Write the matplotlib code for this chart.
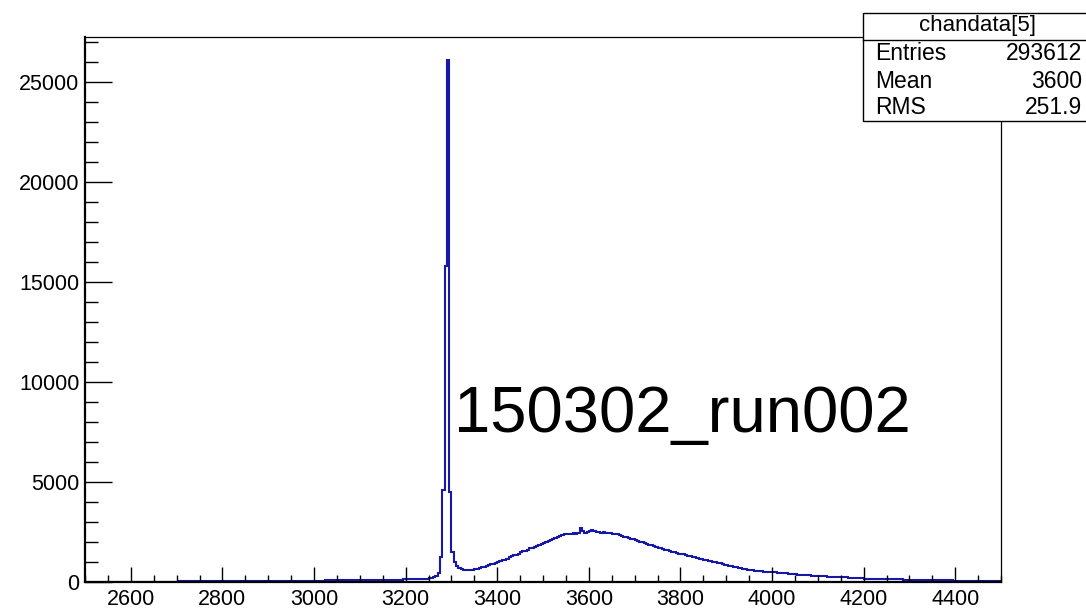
import matplotlib
matplotlib.use("Agg")
import matplotlib.pyplot as plt
import matplotlib.patches as patches
from matplotlib.ticker import MultipleLocator
import numpy as np

plt.rcParams['font.family'] = ['Liberation Sans', 'DejaVu Sans']

# histogram chandata[5], 5-unit bins from 2500 to 4500
bin_lo = 2500
bin_width = 5
counts = [
    4, 6, 5, 7, 6, 8, 7, 9, 8, 10,
    9, 11, 10, 12, 11, 13, 12, 14, 13, 15,
    14, 16, 15, 17, 16, 18, 17, 19, 18, 20,
    19, 21, 20, 22, 21, 23, 22, 24, 23, 25,
    24, 26, 25, 27, 26, 28, 27, 29, 28, 30,
    29, 31, 30, 32, 31, 33, 33, 35, 34, 36,
    35, 37, 36, 38, 38, 40, 39, 41, 41, 43,
    42, 44, 44, 46, 45, 47, 47, 49, 49, 51,
    50, 52, 52, 54, 54, 56, 56, 58, 58, 60,
    60, 62, 62, 64, 64, 66, 66, 68, 68, 70,
    70, 72, 73, 75, 75, 77, 78, 80, 80, 82,
    83, 85, 85, 87, 88, 90, 91, 93, 93, 95,
    96, 98, 99, 101, 102, 104, 105, 107, 108, 110,
    111, 113, 115, 117, 118, 120, 122, 124, 125, 127,
    130, 133, 136, 139, 142, 146, 150, 155, 160, 168,
    185, 200, 230, 280, 470, 1270, 4600, 15800, 26100, 4500,
    1500, 1000, 780, 700, 670, 620, 590, 580, 590, 610,
    630, 650, 690, 730, 770, 800, 840, 880, 910, 950,
    1000, 1040, 1090, 1120, 1170, 1240, 1280, 1330, 1370, 1420,
    1480, 1530, 1560, 1610, 1680, 1720, 1760, 1800, 1850, 1920,
    1950, 2000, 2060, 2110, 2160, 2200, 2250, 2300, 2360, 2380,
    2420, 2400, 2390, 2430, 2410, 2470, 2680, 2560, 2470, 2500,
    2550, 2580, 2530, 2500, 2490, 2470, 2480, 2450, 2430, 2440,
    2410, 2400, 2380, 2330, 2300, 2260, 2230, 2200, 2150, 2130,
    2100, 2070, 2020, 1980, 1950, 1900, 1860, 1840, 1790, 1760,
    1720, 1700, 1650, 1610, 1590, 1560, 1510, 1490, 1460, 1420,
    1400, 1380, 1340, 1310, 1290, 1250, 1230, 1200, 1170, 1150,
    1120, 1090, 1060, 1040, 1000, 980, 960, 930, 900, 870,
    850, 820, 790, 770, 740, 720, 690, 670, 640, 620,
    600, 590, 570, 560, 540, 530, 520, 510, 500, 495,
    490, 480, 475, 470, 460, 450, 430, 420, 400, 390,
    380, 370, 360, 350, 345, 335, 330, 320, 315, 305,
    300, 295, 285, 280, 270, 265, 260, 255, 250, 245,
    240, 235, 230, 225, 215, 210, 200, 195, 185, 180,
    175, 170, 165, 160, 158, 155, 150, 148, 145, 142,
    140, 138, 135, 133, 130, 128, 126, 124, 122, 120,
    118, 116, 113, 111, 108, 106, 103, 100, 98, 96,
    94, 92, 90, 88, 85, 83, 80, 78, 76, 74,
    72, 71, 70, 68, 67, 65, 64, 62, 61, 60,
    59, 58, 57, 56, 55, 54, 53, 52, 51, 50,
]
x_ticks = [2600, 2800, 3000, 3200, 3400, 3600, 3800, 4000, 4200, 4400]
y_ticks = [0, 5000, 10000, 15000, 20000, 25000]

stats_title = "chandata[5]"
stats_names = ["Entries", "Mean", "RMS"]
stats_values = ["293612", "3600", "251.9"]
run_label = "150302_run002"

edges = bin_lo + bin_width * np.arange(len(counts) + 1)

W, H = 1086, 609
fig = plt.figure(figsize=(W / 100, H / 100), dpi=100)
ax = fig.add_axes([85 / W, 1 - 582 / H, (1001 - 85) / W, (582 - 37) / H])

ax.stairs(counts, edges, baseline=None, color='#1818a8', linewidth=1.5)

ax.set_xlim(2500, 4500)
ax.set_ylim(0, 27250)
ax.set_xticks(x_ticks)
ax.set_yticks(y_ticks)
ax.xaxis.set_minor_locator(MultipleLocator(50))
ax.yaxis.set_minor_locator(MultipleLocator(1000))
ax.tick_params(axis='x', which='major', direction='in', length=10.8, width=1.0,
               labelsize=15.5, pad=5)
ax.tick_params(axis='x', which='minor', direction='in', length=5.4, width=1.0)
ax.tick_params(axis='y', which='major', direction='in', length=19.4, width=1.0,
               labelsize=15.5, pad=4)
ax.tick_params(axis='y', which='minor', direction='in', length=9.4, width=1.0)
ax.tick_params(top=False, right=False, which='both')
for side in ['top', 'right']:
    ax.spines[side].set_linewidth(0.9)
for side in ['bottom', 'left']:
    ax.spines[side].set_linewidth(1.6)

ax.text(3306, 7500, run_label, fontsize=47, ha='left', va='baseline')

# stats box
bx0, bx1, by0, by1 = 863, 1092, 13, 121
box = patches.Rectangle((bx0 / W, 1 - by1 / H), (bx1 - bx0) / W, (by1 - by0) / H,
                        transform=fig.transFigure, facecolor='white',
                        edgecolor='black', linewidth=1.0, clip_on=False, zorder=5)
fig.patches.append(box)
fig.add_artist(plt.Line2D([bx0 / W, bx1 / W], [1 - 40 / H, 1 - 40 / H],
                          transform=fig.transFigure, color='black', linewidth=1.0, zorder=6))
fig.text(977 / W, 1 - 26 / H, stats_title, fontsize=16, ha='center', va='center', zorder=7)
row_y = [54, 81, 108]
for name, val, yy in zip(stats_names, stats_values, row_y):
    fig.text(875 / W, 1 - yy / H, name, fontsize=16.5, ha='left', va='center', zorder=7)
    fig.text(1082 / W, 1 - yy / H, val, fontsize=16.5, ha='right', va='center', zorder=7)

fig.savefig("out.png", dpi=100)
